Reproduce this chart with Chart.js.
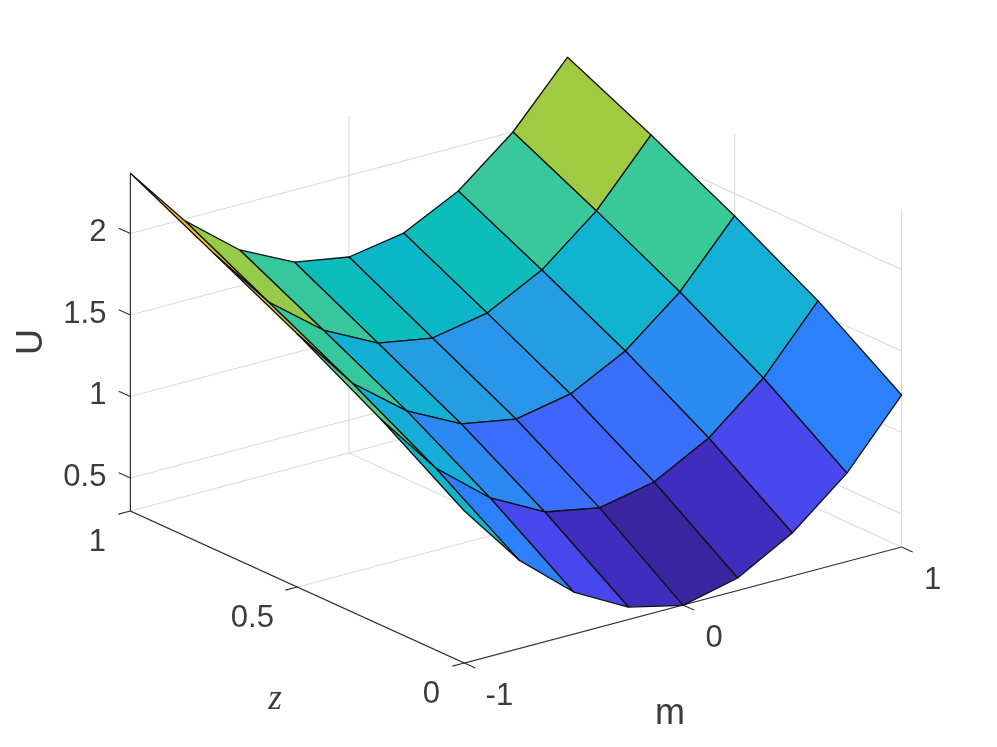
<!DOCTYPE html>
<html>
<head>
<meta charset="utf-8">
<title>U(m, z)</title>
<script src="https://cdn.jsdelivr.net/npm/chart.js@4/dist/chart.umd.min.js"></script>
<style>
    html, body { margin: 0; padding: 0; background: #fff; }
    canvas { display: block; }
</style>
</head>
<body>
<canvas id="surfaceChart" width="997" height="747"></canvas>
<script>
// ========== 数据 ==========
const mValues = [-1, -0.75, -0.5, -0.25, 0, 0.25, 0.5, 0.75, 1];
const zValues = [0, 0.25, 0.5, 0.75, 1];

const uAtZ000 = [1.23, 0.84, 0.555, 0.374, 0.295, 0.374, 0.561, 0.84, 1.23];
const uAtZ025 = [1.56, 1.172, 0.899, 0.724, 0.66, 0.73, 0.911, 1.19, 1.574];
const uAtZ050 = [1.85, 1.46, 1.2, 1.031, 0.972, 1.037, 1.212, 1.485, 1.862];
const uAtZ075 = [2.11, 1.724, 1.463, 1.294, 1.236, 1.3, 1.475, 1.749, 2.126];
const uAtZ100 = [2.37, 1.988, 1.721, 1.558, 1.5, 1.558, 1.727, 2.0, 2.37];
const uRows = [uAtZ000, uAtZ025, uAtZ050, uAtZ075, uAtZ100];

const mTicks = [-1, 0, 1];
const zTicks = [0, 0.5, 1];
const uTicks = [0.5, 1, 1.5, 2];
const mTickLabels = ['-1', '0', '1'];
const zTickLabels = ['0', '0.5', '1'];
const uTickLabels = ['0.5', '1', '1.5', '2'];

// 色阶（U值 -> 颜色）
const colorLevels = [0.295, 0.374, 0.56, 0.66, 0.84, 1.0, 1.19, 1.27, 1.46, 1.5, 1.74, 2.05];
const colorStops = ['#38259f', '#3e2dbe', '#4848ee', '#4064ff', '#2c80fb', '#2899e6', '#14b0d6', '#04bbc0', '#35c89c', '#3cc896', '#9dca43', '#f0c020'];

const uFloor = 0.2975;
const uTop = 2.365;

// ========== 投影 ==========
function projX(m, z) { return 683 + 218.6 * m - 334 * z; }
function projY(m, z, u) { return 605 - 58 * m - 152 * z - 163 * (u - uFloor); }
function pt(m, z, u) { return { x: projX(m, z), y: projY(m, z, u) }; }

function hexToRgb(hex) {
    return [1, 3, 5].map(i => parseInt(hex.substr(i, 2), 16));
}

function colorFor(u) {
    if (u <= colorLevels[0]) return colorStops[0];
    for (let i = 1; i < colorLevels.length; i++) {
        if (u <= colorLevels[i]) {
            const t = (u - colorLevels[i - 1]) / (colorLevels[i] - colorLevels[i - 1]);
            const a = hexToRgb(colorStops[i - 1]);
            const b = hexToRgb(colorStops[i]);
            return `rgb(${a.map((v, k) => Math.round(v + (b[k] - v) * t)).join(',')})`;
        }
    }
    return colorStops[colorStops.length - 1];
}

function lineSet(points, color, width) {
    return {
        data: points,
        showLine: true,
        fill: false,
        borderColor: color,
        borderWidth: width,
        pointRadius: 0,
        tension: 0,
        clip: false
    };
}

// ========== 背景网格 ==========
function gridSets() {
    const grid = '#dcdcdc';
    const sets = [];
    // 地面
    sets.push(lineSet([pt(-1, 1, uFloor), pt(1, 1, uFloor), pt(1, 0, uFloor)], grid, 1.2));
    mTicks.filter(m => m === 0).forEach(m => sets.push(lineSet([pt(m, 0, uFloor), pt(m, 1, uFloor)], grid, 1.2)));
    zTicks.filter(z => z === 0.5).forEach(z => sets.push(lineSet([pt(-1, z, uFloor), pt(1, z, uFloor)], grid, 1.2)));
    // 后墙
    uTicks.forEach(u => {
        sets.push(lineSet([pt(-1, 1, u), pt(1, 1, u), pt(1, 0, u)], grid, 1.2));
    });
    sets.push(lineSet([pt(0, 1, uFloor), pt(0, 1, uTop)], grid, 1.2));
    sets.push(lineSet([pt(1, 1, uFloor), pt(1, 1, uTop)], grid, 1.2));
    sets.push(lineSet([pt(1, 0.5, uFloor), pt(1, 0.5, uTop)], grid, 1.2));
    sets.push(lineSet([pt(1, 0, uFloor), pt(1, 0, uTop)], grid, 1.2));
    return sets;
}

// ========== 坐标轴 ==========
function axisSets() {
    const axis = '#333';
    const sets = [];
    sets.push(lineSet([pt(-1, 1, uTop), pt(-1, 1, uFloor), pt(-1, 0, uFloor), pt(1, 0, uFloor)], axis, 1.2));
    mTicks.forEach(m => sets.push(lineSet([pt(m, 0, uFloor), pt(m, -0.033, uFloor)], axis, 1.2)));
    zTicks.forEach(z => sets.push(lineSet([pt(-1, z, uFloor), pt(-1.055, z, uFloor)], axis, 1.2)));
    uTicks.forEach(u => sets.push(lineSet([pt(-1, 1, u), pt(-1, 1.035, u)], axis, 1.2)));
    return sets;
}

// ========== 曲面 ==========
function surfaceSets() {
    const sets = [];
    // 从后往前画
    for (let i = mValues.length - 2; i >= 0; i--) {
        for (let j = zValues.length - 2; j >= 0; j--) {
            const m0 = mValues[i], m1 = mValues[i + 1];
            const z0 = zValues[j], z1 = zValues[j + 1];
            const corner = pt(m0, z0, uRows[j][i]);
            sets.push({
                data: [corner, pt(m1, z0, uRows[j][i + 1]), pt(m1, z1, uRows[j + 1][i + 1]), pt(m0, z1, uRows[j + 1][i]), corner],
                showLine: true,
                fill: 'shape',
                backgroundColor: colorFor(uRows[j][i]),
                borderColor: '#111',
                borderWidth: 1.3,
                borderJoinStyle: 'round',
                pointRadius: 0,
                tension: 0,
                clip: false
            });
        }
    }
    return sets;
}

// ========== 文字标注 ==========
const textPlugin = {
    id: 'axisText',
    afterDraw(chart) {
        const ctx = chart.ctx;
        const sx = chart.scales.x, sy = chart.scales.y;
        const put = (text, x, y, font, align) => {
            ctx.font = font;
            ctx.textAlign = align || 'center';
            ctx.textBaseline = 'middle';
            ctx.fillText(text, sx.getPixelForValue(x), sy.getPixelForValue(y));
        };
        const tickFont = '31px "Liberation Sans", Arial, sans-serif';
        const labelFont = '36px "Liberation Sans", Arial, sans-serif';
        ctx.save();
        ctx.fillStyle = '#3c3c3c';
        uTicks.forEach((u, i) => put(uTickLabels[i], projX(-1, 1) - 24, projY(-1, 1, u) - 1, tickFont, 'right'));
        // 0.5 的标签在原图里比其它两个更靠左
        const zShift = [-33, -45, -33];
        zTicks.forEach((z, i) => put(zTickLabels[i], projX(-1, z) + zShift[i], projY(-1, z, uFloor) + 31, tickFont));
        const mShift = [35, 31, 31];
        mTicks.forEach((m, i) => put(mTickLabels[i], projX(m, 0) + mShift[i], projY(m, 0, uFloor) + 33, tickFont));
        put('m', 670, 714, labelFont);
        put('z', 275, 700, 'italic 35px "Liberation Serif", serif');
        // 纵轴标题
        ctx.translate(sx.getPixelForValue(32), sy.getPixelForValue(342));
        ctx.rotate(-Math.PI / 2);
        ctx.font = labelFont;
        ctx.textAlign = 'center';
        ctx.textBaseline = 'middle';
        ctx.fillText('U', 0, 0);
        ctx.restore();
    }
};

// ========== 图表 ==========
// 先画的放数组后面，Chart.js 从最后一个数据集开始画
const allSets = [...gridSets(), ...axisSets(), ...surfaceSets()].reverse();

new Chart(document.getElementById('surfaceChart').getContext('2d'), {
    type: 'scatter',
    data: { datasets: allSets },
    options: {
        responsive: false,
        animation: false,
        layout: { padding: 0 },
        scales: {
            x: { type: 'linear', min: 0, max: 997, display: false },
            y: { type: 'linear', min: 0, max: 747, reverse: true, display: false }
        },
        plugins: {
            legend: { display: false },
            tooltip: { enabled: false }
        },
        events: []
    },
    plugins: [textPlugin]
});
</script>
</body>
</html>
